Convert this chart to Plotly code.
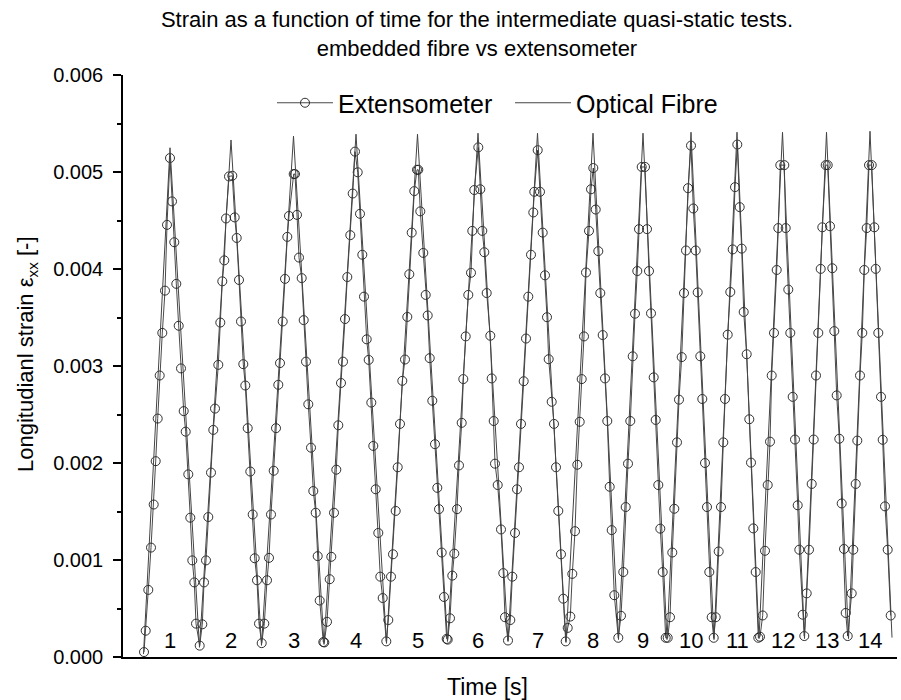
import plotly.graph_objects as go

# ---------------- data ----------------
# Extensometer samples: time [s] and strain in units of 1e-3
ext_time = [
    21.0, 22.7, 25.3, 28.0, 30.7, 32.7, 34.7, 36.7, 39.3, 42.0, 44.0, 47.0,
    49.0, 51.3, 53.3, 55.7, 58.0, 60.7, 62.7, 65.3, 67.3, 69.3, 71.3, 73.0, 76.7,
    79.3, 81.0, 83.0, 85.3, 88.0, 90.3, 92.0, 95.3, 97.3, 99.3, 101.3, 103.0, 106.0, 109.3,
    111.7, 113.7, 116.0, 118.0, 120.3, 122.3, 124.7, 127.3, 129.7, 131.7, 134.0, 136.0, 138.7,
    141.3, 144.0, 146.0, 148.0, 150.7, 153.0, 155.3, 157.0, 159.7, 162.0, 164.3, 166.0, 170.7, 172.0,
    174.0, 176.0, 178.7, 180.7, 183.0, 185.3, 188.0, 190.3, 192.7, 194.7, 196.7, 200.3, 201.3,
    204.0, 206.7, 208.3, 211.0, 213.3, 215.3, 218.0, 220.0, 222.0, 224.3, 227.3, 229.7, 232.0,
    234.7, 237.0, 239.3, 241.0, 243.7, 245.7, 248.3, 250.3, 252.7, 255.3, 257.3, 259.7, 263.3,
    265.3, 268.0, 270.0, 272.7, 274.7, 277.0, 279.3, 282.0, 284.3, 286.3, 288.7, 291.3, 294.0, 295.3,
    297.3, 300.3, 302.7, 304.7, 306.7, 309.3, 312.0, 314.3, 316.0, 318.7, 321.0, 323.7, 324.7,
    327.0, 329.3, 331.3, 334.0, 336.0, 338.7, 340.3, 342.7, 345.3, 348.0, 349.3, 351.3, 355.3,
    357.3, 359.3, 361.3, 363.7, 367.3, 368.7, 370.7, 372.0, 374.7, 378.0, 380.3, 382.0, 385.0,
    387.3, 389.3, 392.0, 394.0, 396.0, 398.0, 400.7, 403.0, 405.3, 408.0, 410.3, 411.3, 414.7,
    417.0, 419.7, 422.0, 424.0, 425.7, 428.7, 431.0, 433.0, 435.3, 438.0, 440.3, 442.7,
    444.7, 447.3, 449.3, 452.0, 454.3, 456.7, 458.7, 461.0, 463.0, 466.0, 468.0, 470.3,
    472.7, 475.3, 477.3, 479.7, 482.0, 484.3, 486.7, 488.7, 491.3, 495.3,
    498.0, 500.3, 502.7, 505.0, 507.3, 509.7, 512.0, 514.3, 516.0, 518.7, 522.0,
    524.0, 526.0, 528.0, 530.7, 532.7, 535.3, 537.3, 539.7, 542.7,
    544.7, 547.0, 549.3, 551.3, 554.0, 556.0, 558.7, 561.0, 563.0, 565.0, 568.0,
    570.3, 572.7, 574.7, 577.3, 579.3, 582.0, 584.0, 586.3, 588.7, 590.7,
    592.7, 595.7, 598.0, 600.3, 602.0, 604.7, 607.3, 609.7, 612.0, 614.3,
    616.7, 618.7, 620.7, 623.7, 626.3, 628.0, 630.3, 632.7, 635.3,
    637.0, 639.7, 642.0, 644.7, 647.0, 648.7, 651.0, 653.7, 655.3, 657.3, 661.3,
    662.7, 665.3, 667.3, 669.7, 672.0, 674.7, 676.3, 679.7, 681.3,
    683.7, 686.0, 688.7, 690.7, 693.0, 695.3, 697.7, 699.3, 702.7, 704.7,
    707.0, 709.3, 711.3, 713.7, 716.3, 718.7, 721.0, 722.7, 724.7,
    728.7, 730.3, 732.7, 734.3, 737.0, 739.3, 741.3, 743.7, 746.0, 748.7,
    751.3, 752.7, 755.3, 758.0, 759.7, 762.0, 764.7, 767.7,
]
ext_strain_milli = [
    0.051, 0.271, 0.692, 1.128, 1.572, 2.019, 2.458, 2.902, 3.341, 3.777, 4.455, 5.144,
    4.697, 4.276, 3.847, 3.415, 2.975, 2.535, 2.323, 1.883, 1.436, 0.996, 0.769, 0.344, 0.117,
    0.337, 0.769, 0.996, 1.443, 1.901, 2.341, 2.561, 3.012, 3.448, 3.873, 4.089, 4.521, 4.954, 4.961,
    4.532, 4.320, 3.887, 3.459, 3.019, 2.799, 2.359, 1.912, 1.469, 1.018, 0.791, 0.344, 0.143,
    0.344, 0.791, 1.022, 1.469, 1.920, 2.359, 2.806, 3.030, 3.459, 3.898, 4.331, 4.547, 4.979, 4.979,
    4.558, 4.118, 3.906, 3.473, 3.045, 2.605, 2.158, 1.711, 1.487, 1.040, 0.582, 0.154, 0.150,
    0.363, 0.802, 1.033, 1.487, 1.931, 2.389, 2.825, 3.045, 3.484, 3.917, 4.349, 4.778, 5.210,
    4.997, 4.569, 4.147, 3.715, 3.275, 3.063, 2.623, 2.176, 1.729, 1.279, 0.828, 0.608, 0.161,
    0.381, 0.828, 1.059, 1.506, 1.956, 2.403, 2.847, 3.067, 3.506, 3.946, 4.375, 4.803, 5.023, 5.023,
    4.594, 4.166, 3.733, 3.521, 3.081, 2.642, 2.194, 1.744, 1.524, 1.077, 0.619, 0.187, 0.179,
    0.399, 0.839, 1.066, 1.524, 1.975, 2.414, 2.865, 3.305, 3.733, 3.961, 4.393, 4.814, 5.254,
    4.822, 4.393, 4.173, 3.752, 3.312, 2.872, 2.433, 1.993, 1.773, 1.315, 0.865, 0.410, 0.170,
    0.381, 0.828, 1.279, 1.729, 1.956, 2.403, 2.843, 3.283, 3.715, 4.147, 4.583, 4.796, 5.225,
    4.796, 4.375, 3.935, 3.503, 3.070, 2.631, 2.403, 1.956, 1.506, 1.059, 0.601, 0.161,
    0.300, 0.417, 0.857, 1.297, 1.982, 2.425, 2.865, 3.305, 3.964, 4.393, 4.822, 5.041,
    4.613, 4.184, 3.752, 3.319, 2.872, 2.433, 1.755, 1.308, 0.637, 0.198,
    0.425, 0.876, 1.546, 1.993, 2.433, 3.100, 3.539, 3.979, 4.411, 5.052, 5.052,
    4.411, 3.979, 3.543, 2.883, 2.444, 1.773, 1.323, 0.876, 0.198,
    0.198, 0.410, 1.077, 1.528, 2.213, 2.653, 3.092, 3.752, 4.191, 4.833, 5.272,
    4.624, 4.191, 3.759, 3.100, 2.660, 2.000, 1.546, 0.876, 0.410, 0.198,
    0.410, 1.088, 1.546, 2.213, 2.660, 3.323, 3.763, 4.202, 4.844, 5.283,
    4.638, 4.210, 3.557, 3.121, 2.451, 2.004, 1.326, 0.876, 0.198,
    0.209, 0.428, 1.095, 1.773, 2.220, 2.902, 3.341, 3.990, 4.422, 5.071, 5.071,
    4.422, 3.788, 3.341, 2.682, 2.242, 1.564, 1.106, 0.436, 0.216,
    0.656, 1.106, 1.784, 2.242, 2.902, 3.341, 4.001, 4.430, 5.071, 5.071,
    4.441, 4.008, 3.360, 2.697, 2.250, 1.583, 1.114, 0.454, 0.216,
    0.656, 1.106, 1.784, 2.231, 2.902, 3.341, 3.990, 4.422, 5.071, 5.071,
    4.430, 4.001, 3.341, 2.682, 2.239, 1.553, 1.106, 0.428,
]

# Optical fibre: turning points of the signal (time [s], strain in 1e-3)
fibre_time = [20.5, 47.0, 76.5, 108.0, 138.5, 170.5, 201.0, 233.0, 263.5, 294.5,
              324.5, 355.0, 385.0, 414.5, 443.0, 470.0, 495.5, 520.0, 544.0, 568.0,
              591.0, 614.0, 636.0, 659.5, 681.5, 703.5, 725.5, 747.0, 769.0]
fibre_strain_milli = [0.03, 5.25, 0.10, 5.33, 0.12, 5.37, 0.13, 5.39, 0.14, 5.39,
                      0.16, 5.40, 0.16, 5.40, 0.15, 5.40, 0.18, 5.40, 0.18, 5.41,
                      0.18, 5.41, 0.19, 5.41, 0.19, 5.41, 0.19, 5.42, 0.20]

cycle_labels = ["1", "2", "3", "4", "5", "6", "7", "8", "9", "10", "11", "12", "13", "14"]
y_ticks = [0.000, 0.001, 0.002, 0.003, 0.004, 0.005, 0.006]

# unit conversion 1e-3 -> absolute strain
ext_strain = [v * 1e-3 for v in ext_strain_milli]
fibre_strain = [v * 1e-3 for v in fibre_strain_milli]
peak_times = fibre_time[1::2]

FONT = "Arial, Liberation Sans, Helvetica, sans-serif"
L, R, T, B = 123, 4, 75, 43
PW, PH = 901 - L - R, 700 - T - B


def px_x(p):
    return (p - L) / PW


def px_y(p):
    return (700 - B - p) / PH


fig = go.Figure()
fig.add_trace(go.Scatter(
    x=ext_time, y=ext_strain, mode="lines+markers", name="Extensometer",
    line=dict(color="#1a1a1a", width=0.8),
    marker=dict(symbol="circle-open", size=9, color="#1a1a1a", line=dict(width=0.9)),
    legend="legend",
))
fig.add_trace(go.Scatter(
    x=fibre_time, y=fibre_strain, mode="lines", name="Optical Fibre",
    line=dict(color="#444444", width=1),
    legend="legend2",
))

annotations = []
for t, lab in zip(peak_times, cycle_labels):
    annotations.append(dict(x=t, y=0.000175, xref="x", yref="y", text=lab,
                            showarrow=False, font=dict(size=22, color="black", family=FONT),
                            xanchor="center", yanchor="middle"))
annotations.append(dict(x=px_x(487), y=px_y(687), xref="paper", yref="paper",
                        text="Time [s]", showarrow=False,
                        font=dict(size=23, color="black", family=FONT),
                        xanchor="center", yanchor="middle"))
annotations.append(dict(x=px_x(27), y=px_y(354), xref="paper", yref="paper",
                        text="Longitudianl strain ε<sub>xx</sub> [-]", textangle=-90,
                        showarrow=False, font=dict(size=22, color="black", family=FONT),
                        xanchor="center", yanchor="middle"))

legend_common = dict(orientation="h", xanchor="left", yanchor="middle",
                     font=dict(size=25, color="black", family=FONT),
                     itemwidth=56, bgcolor="rgba(0,0,0,0)")

fig.update_layout(
    width=901, height=700,
    margin=dict(l=L, r=R, t=T, b=B),
    paper_bgcolor="white", plot_bgcolor="white",
    font=dict(family=FONT, color="black"),
    title=dict(text="Strain as a function of time for the intermediate quasi-static tests.<br>"
                    "embedded fibre vs extensometer",
               x=px_x(477), xref="paper", xanchor="center",
               y=1 - 27 / 700, yref="container", yanchor="middle",
               font=dict(size=22, color="black", family=FONT)),
    showlegend=True,
    legend=dict(x=px_x(272), y=px_y(103), **legend_common),
    legend2=dict(x=px_x(510), y=px_y(103), **legend_common),
    annotations=annotations,
)
fig.update_xaxes(range=[0, PW], showline=True, linecolor="black", linewidth=1.5,
                 showticklabels=False, ticks="", showgrid=False, zeroline=False, mirror=False)
fig.update_yaxes(range=[0, 0.006], tickvals=y_ticks, tickformat=".3f",
                 ticks="outside", ticklen=8, tickwidth=1.5, tickcolor="black",
                 ticklabelstandoff=6,
                 minor=dict(dtick=0.0005, ticks="outside", ticklen=4, tickwidth=1.5,
                            tickcolor="black", showgrid=False),
                 showline=True, linecolor="black", linewidth=1.5, showgrid=False,
                 zeroline=False, mirror=False,
                 tickfont=dict(size=20, color="black", family=FONT))

fig.write_html("out.html", config={"displayModeBar": False},
               post_script="document.body.style.margin='0px';")
